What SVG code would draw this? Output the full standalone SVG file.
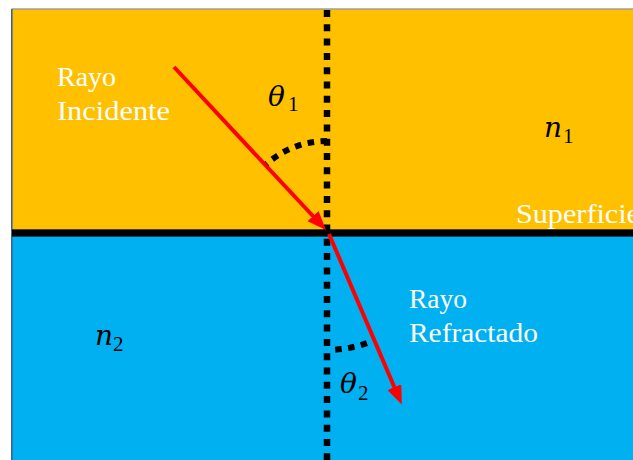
<svg xmlns="http://www.w3.org/2000/svg" width="633" height="460" viewBox="0 0 633 460">
  <style>
    .lbl { font-family: "Liberation Serif", "Times New Roman", serif; font-size: 28px; fill: #FFFFFF; }
    .math { font-family: "DejaVu Serif", "Liberation Serif", serif; font-style: italic; font-size: 28px; fill: #000000; }
    .sub { font-family: "Liberation Serif", "Times New Roman", serif; font-size: 21px; fill: #000000; }
    .ray { stroke: #FF0000; stroke-width: 4; fill: none; }
    .dots { stroke: #000000; stroke-width: 6.5; fill: none; stroke-dasharray: 7 7.3; }
    .arcdots { stroke: #000000; stroke-width: 6; fill: none; stroke-dasharray: 6.5 6.5; }
  </style>
  <defs>
    <marker id="arrow" markerUnits="userSpaceOnUse" markerWidth="19" markerHeight="15" refX="8" refY="7.5" orient="auto" viewBox="0 0 19 15">
      <path d="M0,0 L19,7.5 L0,15 Z" fill="#FF0000"/>
    </marker>
  </defs>

  <g id="medio1">
    <rect x="12" y="9.5" width="621" height="220" fill="#FFC000"/>
  </g>
  <g id="medio2">
    <rect x="12" y="236" width="621" height="224" fill="#00B0F0"/>
  </g>
  <g id="bordes">
    <line x1="11.5" y1="9" x2="633" y2="9" stroke="#6E6E6E" stroke-width="1.2"/>
    <line x1="11.8" y1="9" x2="11.8" y2="460" stroke="#3F6291" stroke-width="1.6"/>
  </g>

  <g id="superficie">
    <rect x="12" y="229.3" width="621" height="7.3" fill="#000000"/>
    <text class="lbl" x="516" y="223" textLength="124" lengthAdjust="spacingAndGlyphs">Superficie</text>
  </g>

  <g id="normal">
    <line class="dots" x1="327" y1="10" x2="327" y2="460"/>
  </g>

  <g id="angulos">
    <path class="arcdots" d="M327,141 A91,91 0 0 0 265.5,164.9"/>
    <path class="arcdots" d="M335.2,349.7 A118,118 0 0 0 367.4,342.9"/>
  </g>

  <g id="connectors">
    <line class="ray" x1="174" y1="67" x2="318.5" y2="222" marker-end="url(#arrow)"/>
    <line class="ray" x1="329" y1="234" x2="397.5" y2="394.5" marker-end="url(#arrow)"/>
  </g>

  <g id="rayo-incidente">
    <text class="lbl" x="57" y="86" textLength="59" lengthAdjust="spacingAndGlyphs">Rayo</text>
    <text class="lbl" x="57" y="120" textLength="113" lengthAdjust="spacingAndGlyphs">Incidente</text>
  </g>
  <g id="rayo-refractado">
    <text class="lbl" x="409" y="308" textLength="58" lengthAdjust="spacingAndGlyphs">Rayo</text>
    <text class="lbl" x="409" y="342" textLength="129" lengthAdjust="spacingAndGlyphs">Refractado</text>
  </g>

  <g id="theta1">
    <text class="math" x="268" y="106">θ</text>
    <text class="sub" x="288" y="111">1</text>
  </g>
  <g id="n1">
    <text class="math" x="544" y="137">n</text>
    <text class="sub" x="563" y="143">1</text>
  </g>
  <g id="n2">
    <text class="math" x="95" y="345">n</text>
    <text class="sub" x="113" y="351">2</text>
  </g>
  <g id="theta2">
    <text class="math" x="340" y="393">θ</text>
    <text class="sub" x="358" y="400">2</text>
  </g>
</svg>
